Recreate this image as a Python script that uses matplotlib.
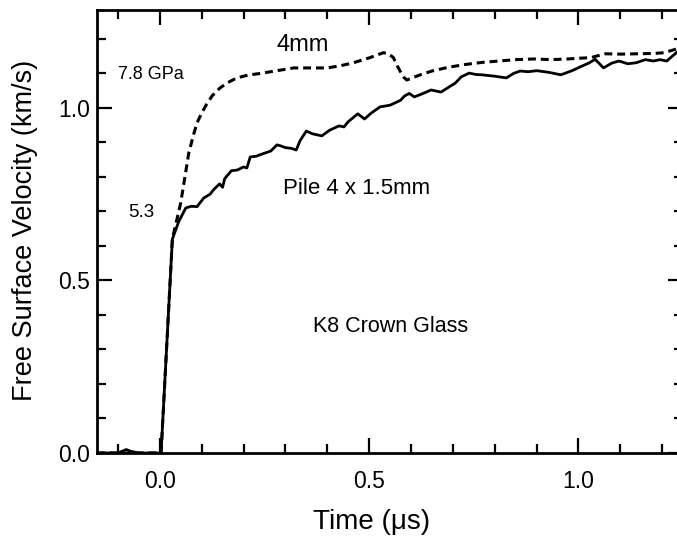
import numpy as np
import matplotlib
matplotlib.use("Agg")
import matplotlib.pyplot as plt
from matplotlib.ticker import MultipleLocator, FormatStrFormatter

plt.rcParams['font.family'] = ['Liberation Sans', 'DejaVu Sans']

# Pile 4 x 1.5mm (solid trace)
pile_t = [-0.15, -0.10, -0.08, -0.07, -0.05, -0.02, 0.0, 0.003, 0.03, 0.045,
          0.062, 0.075, 0.089, 0.105, 0.12, 0.13, 0.143, 0.15, 0.155, 0.171,
          0.185, 0.2, 0.208, 0.216, 0.23, 0.248, 0.265, 0.28, 0.289, 0.30,
          0.314, 0.326, 0.335, 0.35, 0.365, 0.387, 0.405, 0.428, 0.44, 0.45,
          0.473, 0.489, 0.505, 0.526, 0.55, 0.575, 0.585, 0.596, 0.608, 0.625,
          0.648, 0.672, 0.69, 0.706, 0.72, 0.739, 0.755, 0.77, 0.80, 0.828,
          0.845, 0.861, 0.88, 0.901, 0.93, 0.958, 0.985, 1.008, 1.025, 1.04,
          1.06, 1.08, 1.097, 1.118, 1.138, 1.16, 1.179, 1.195, 1.211, 1.235]
pile_v = [0.0, 0.0, 0.01, 0.005, 0.0, 0.0, 0.0, 0.0, 0.62, 0.67,
          0.71, 0.715, 0.714, 0.739, 0.75, 0.765, 0.78, 0.77, 0.795, 0.818,
          0.82, 0.829, 0.826, 0.858, 0.86, 0.868, 0.875, 0.893, 0.89, 0.885,
          0.883, 0.878, 0.905, 0.933, 0.925, 0.919, 0.935, 0.948, 0.945, 0.96,
          0.983, 0.968, 0.985, 1.003, 1.008, 1.022, 1.035, 1.042, 1.032, 1.04,
          1.052, 1.046, 1.06, 1.072, 1.09, 1.101, 1.097, 1.096, 1.092, 1.087,
          1.1, 1.107, 1.105, 1.108, 1.103, 1.096, 1.108, 1.121, 1.13, 1.141,
          1.116, 1.13, 1.136, 1.128, 1.131, 1.14, 1.136, 1.14, 1.136, 1.161]

# 4mm single sample (dashed trace)
mm4_t = [-0.15, 0.0, 0.003, 0.03, 0.05, 0.06, 0.069, 0.08, 0.089, 0.10,
         0.11, 0.125, 0.143, 0.16, 0.184, 0.21, 0.24, 0.28, 0.32, 0.36,
         0.40, 0.43, 0.46, 0.50, 0.534, 0.545, 0.558, 0.566, 0.574, 0.582,
         0.59, 0.62, 0.65, 0.69, 0.73, 0.77, 0.81, 0.85, 0.894, 0.935,
         0.975, 1.03, 1.065, 1.10, 1.14, 1.18, 1.204, 1.235]
mm4_v = [0.0, 0.0, 0.0, 0.62, 0.725, 0.80, 0.868, 0.92, 0.957, 0.985,
         1.007, 1.035, 1.057, 1.072, 1.087, 1.095, 1.10, 1.108, 1.116, 1.116,
         1.116, 1.122, 1.13, 1.145, 1.16, 1.158, 1.146, 1.125, 1.107, 1.09,
         1.081, 1.095, 1.107, 1.118, 1.126, 1.132, 1.136, 1.14, 1.142, 1.14,
         1.142, 1.146, 1.157, 1.156, 1.157, 1.158, 1.160, 1.171]

fig = plt.figure(figsize=(6.77, 5.5), dpi=100)
ax = fig.add_axes([0.1433, 0.1764, 0.8656, 0.8055])

ax.plot(mm4_t, mm4_v, color='black', lw=2.2, linestyle=(0, (2.6, 1.6)))
ax.plot(pile_t, pile_v, color='black', lw=2.0)

ax.set_xlim(-0.15, 1.25)
ax.set_ylim(0, 1.284)

ax.xaxis.set_major_locator(MultipleLocator(0.5))
ax.xaxis.set_minor_locator(MultipleLocator(0.1))
ax.yaxis.set_major_locator(MultipleLocator(0.5))
ax.yaxis.set_minor_locator(MultipleLocator(0.1))
ax.xaxis.set_major_formatter(FormatStrFormatter('%.1f'))
ax.yaxis.set_major_formatter(FormatStrFormatter('%.1f'))

ax.tick_params(which='both', direction='in', top=True, right=True, width=1.6)
ax.tick_params(which='major', length=11)
ax.tick_params(which='minor', length=6.5)
ax.tick_params(axis='x', which='major', pad=12, labelsize=16.5)
ax.tick_params(axis='y', which='major', pad=5, labelsize=16.5)
for s in ax.spines.values():
    s.set_linewidth(2.0)

ax.set_xlabel('Time (μs)', fontsize=20, va='center')
ax.xaxis.set_label_coords(0.469, -0.156)
ax.set_ylabel('Free Surface Velocity (km/s)', fontsize=19.5, va='center')
ax.yaxis.set_label_coords(-0.123, 0.503)

ax.text(0.341, 1.181, '4mm', fontsize=17, ha='center', va='center')
ax.text(-0.1, 1.096, '7.8 GPa', fontsize=13, ha='left', va='center')
ax.text(-0.045, 0.697, '5.3', fontsize=13.5, ha='center', va='center')
ax.text(0.471, 0.767, 'Pile 4 x 1.5mm', fontsize=16, ha='center', va='center')
ax.text(0.551, 0.368, 'K8 Crown Glass', fontsize=15.5, ha='center', va='center')

fig.savefig('out.png', dpi=100)
